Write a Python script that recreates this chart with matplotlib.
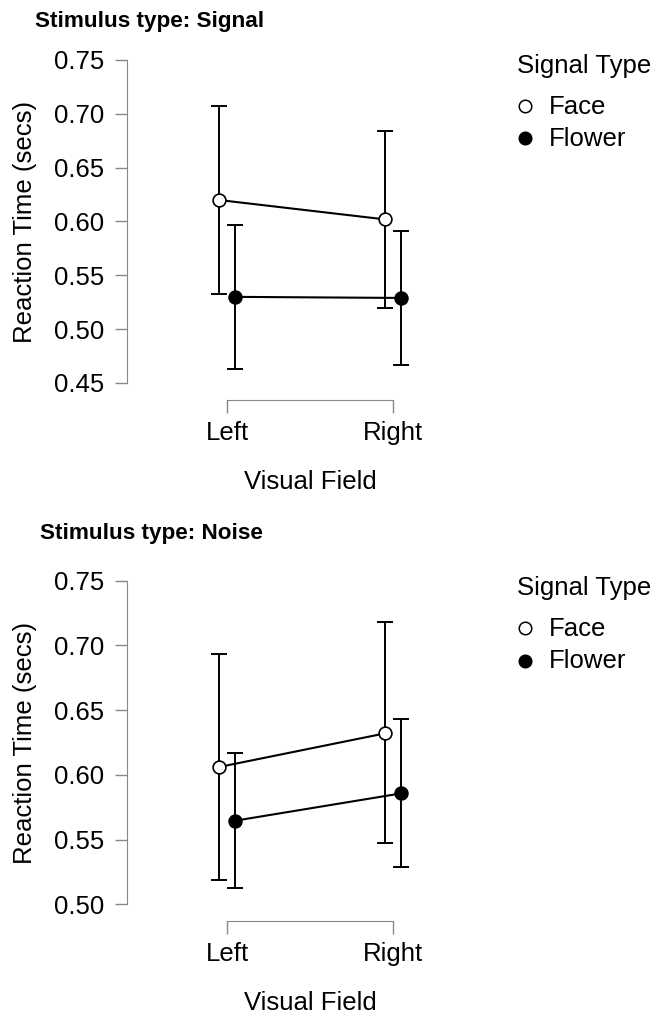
import matplotlib
matplotlib.use("Agg")
import matplotlib.pyplot as plt
from matplotlib.lines import Line2D
import numpy as np

plt.rcParams['font.family'] = ['Liberation Sans', 'DejaVu Sans']

# data
fields = ["Left", "Right"]
signal_types = ["Face", "Flower"]

signal_face = [0.620, 0.602]
signal_face_lo = [0.533, 0.520]
signal_face_hi = [0.707, 0.684]
signal_flower = [0.530, 0.529]
signal_flower_lo = [0.463, 0.4665]
signal_flower_hi = [0.5965, 0.591]

noise_face = [0.606, 0.632]
noise_face_lo = [0.5187, 0.547]
noise_face_hi = [0.6934, 0.718]
noise_flower = [0.5646, 0.5857]
noise_flower_lo = [0.5124, 0.529]
noise_flower_hi = [0.617, 0.643]

signal_yticks = [0.45, 0.50, 0.55, 0.60, 0.65, 0.70, 0.75]
noise_yticks = [0.50, 0.55, 0.60, 0.65, 0.70, 0.75]

W, H = 656, 1015
fig = plt.figure(figsize=(W / 100, H / 100), dpi=100)
spine_col = '#888888'
dodge = 0.05
fs = 18.5


def fy(px):
    # pixel row -> figure fraction
    return 1 - px / H


def panel(top_px, bot_px, title, title_x, title_base, face, face_lo, face_hi,
          flower, flower_lo, flower_hi, yticks, leg_base):
    left_px, right_px = 127, 409.6
    ax = fig.add_axes([left_px / W, fy(bot_px),
                       (right_px - left_px) / W, (bot_px - top_px) / H])
    x = np.arange(len(fields))
    series = [
        (face, face_lo, face_hi, 'white', -dodge),
        (flower, flower_lo, flower_hi, 'black', dodge),
    ]
    for (m, lo, hi, fc, d), name in zip(series, signal_types):
        m = np.array(m)
        err = [m - np.array(lo), np.array(hi) - m]
        ax.errorbar(x + d, m, yerr=err, fmt='none', ecolor='black',
                    elinewidth=1.4, capsize=6, capthick=1.4, zorder=2)
        ax.plot(x + d, m, color='black', lw=1.5, marker='o', ms=9.2,
                mfc=fc, mec='black', mew=1.2, zorder=3, label=name)
    ax.set_xlim(-0.602, 1.1)
    ax.set_ylim(yticks[0], yticks[-1])
    ax.set_yticks(yticks)
    ax.set_yticklabels([f"{t:.2f}" for t in yticks])
    ax.set_xticks(x)
    ax.set_xticklabels(fields)
    for s in ['top', 'right']:
        ax.spines[s].set_visible(False)
    ax.spines['left'].set_color(spine_col)
    ax.spines['bottom'].set_color(spine_col)
    ax.spines['bottom'].set_position(('outward', 12.2))
    ax.spines['bottom'].set_bounds(0, 1)
    ax.tick_params(axis='y', length=8.6, width=1, color=spine_col,
                   labelsize=fs, pad=8)
    ax.tick_params(axis='x', length=9, width=1, color=spine_col,
                   labelsize=fs, pad=6)
    ax.patch.set_visible(False)

    # axis titles
    fig.text(25 / W, fy((top_px + bot_px) / 2), "Reaction Time (secs)",
             rotation=90, ha='center', va='center', fontsize=fs)
    fig.text(310 / W, fy(bot_px + 106), "Visual Field", ha='center',
             va='baseline', fontsize=fs)
    fig.text(title_x / W, fy(title_base), title, fontsize=16.2,
             fontweight='bold', va='baseline', ha='left')

    # legend
    fig.text(517 / W, fy(leg_base), "Signal Type", fontsize=fs,
             va='baseline', ha='left')
    for i, (name, fc) in enumerate(zip(signal_types, ['white', 'black'])):
        my = leg_base + 33 + 32.5 * i
        fig.add_artist(Line2D([525 / W], [fy(my)], marker='o', ms=9,
                              mfc=fc, mec='black', mew=1.1, ls='none',
                              transform=fig.transFigure))
        fig.text(549 / W, fy(my + 8), name, fontsize=fs, va='baseline',
                 ha='left')
    return ax


panel(60, 383, "Stimulus type: Signal", 35, 27.3,
      signal_face, signal_face_lo, signal_face_hi,
      signal_flower, signal_flower_lo, signal_flower_hi,
      signal_yticks, 72.7)
panel(580.7, 904.3, "Stimulus type: Noise", 40, 539.3,
      noise_face, noise_face_lo, noise_face_hi,
      noise_flower, noise_flower_lo, noise_flower_hi,
      noise_yticks, 595)

fig.savefig("out.png", dpi=100)
